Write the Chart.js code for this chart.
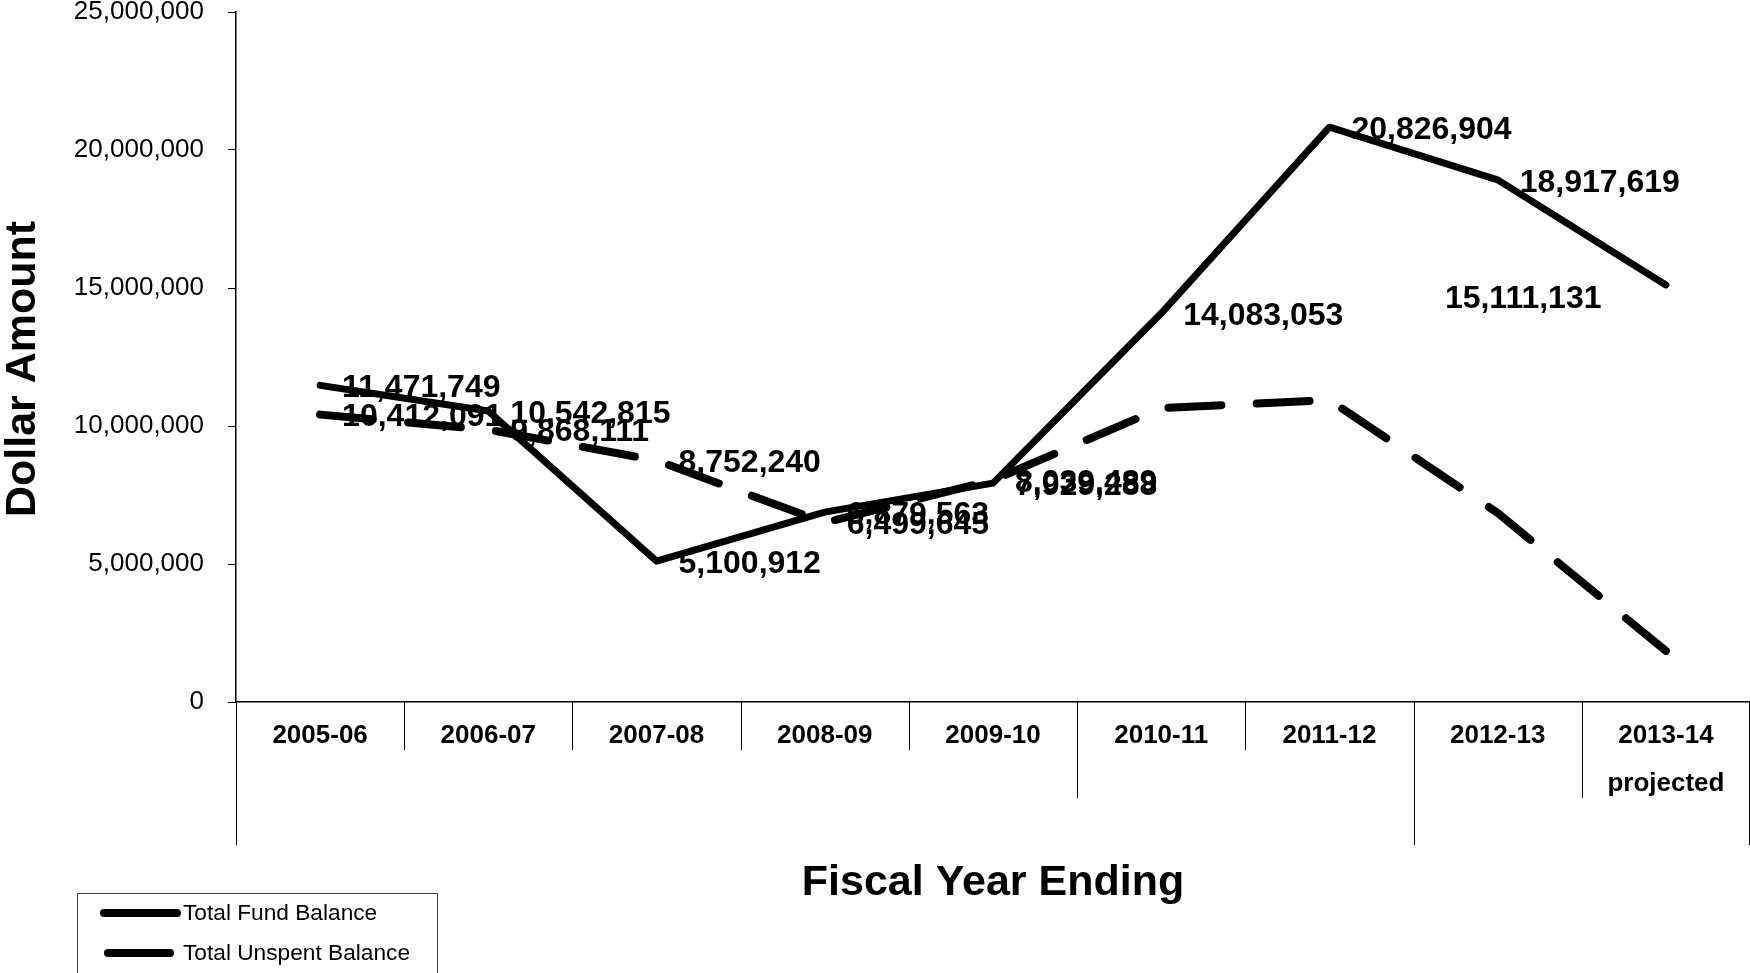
<!DOCTYPE html>
<html>
<head>
<meta charset="utf-8">
<script src="https://cdn.jsdelivr.net/npm/chart.js@4"></script>
<style>
  html, body { margin: 0; padding: 0; background: #fff; }
  .chart-parent { width: 1750px; height: 973px; position: relative; }
</style>
</head>
<body>
<div class="chart-parent">
  <canvas id="myChart"></canvas>
</div>
<script>
const categories = ['2005-06', '2006-07', '2007-08', '2008-09', '2009-10',
  '2010-11', '2011-12', '2012-13', ['2013-14', 'projected']];
const fundBalance = [11471749, 10542815, 5100912, 6879563, 7929288,
  14083053, 20826904, 18917619, 15111131];
const unspentBalance = [10412091, 9868111, 8752240, 6499645, 8039489,
  10650000, 10940000, 6850000, 1850000];
// which points carry a value label in the original
const fundLabelShown = [true, true, true, true, true, true, true, true, true];
const unspentLabelShown = [true, true, true, true, true, false, false, false, false];
const yTicks = [0, 5000000, 10000000, 15000000, 20000000, 25000000];
const seriesNames = ['Total Fund Balance', 'Total Unspent Balance'];

const FONT = '"Liberation Sans", Arial, sans-serif';
const fmt = v => v.toLocaleString('en-US');

// value labels next to the points
const valueLabels = {
  id: 'valueLabels',
  afterDatasetsDraw(chart) {
    const ctx = chart.ctx;
    const shown = [fundLabelShown, unspentLabelShown];
    ctx.save();
    ctx.font = 'bold 32px ' + FONT;
    ctx.fillStyle = '#000';
    ctx.textBaseline = 'middle';
    ctx.textAlign = 'left';
    chart.data.datasets.forEach((ds, di) => {
      chart.getDatasetMeta(di).data.forEach((pt, i) => {
        if (!shown[di][i]) return;
        let dx = 22, dy = 3;
        // last fund label sits to the left of its point
        if (di === 0 && i === ds.data.length - 1) { dx = -221; dy = 14; }
        ctx.fillText(fmt(ds.data[i]), pt.x + dx, pt.y + dy);
      });
    });
    ctx.restore();
  }
};

// category divider lines below the axis, and the legend box
const axisExtras = {
  id: 'axisExtras',
  afterDraw(chart) {
    const ctx = chart.ctx;
    const x = chart.scales.x;
    const y0 = chart.chartArea.bottom;
    const n = categories.length;
    const drops = [143, 48, 48, 48, 48, 96, 48, 143, 96, 143];
    ctx.save();
    ctx.strokeStyle = '#000';
    ctx.lineWidth = 1;
    for (let i = 0; i <= n; i++) {
      let px;
      if (i === 0) px = x.left;
      else if (i === n) px = x.right - 1;
      else px = (x.getPixelForValue(i - 1) + x.getPixelForValue(i)) / 2;
      px = Math.round(px) + 0.5;
      ctx.beginPath();
      ctx.moveTo(px, y0);
      ctx.lineTo(px, y0 + drops[i]);
      ctx.stroke();
    }

    // legend
    ctx.strokeStyle = '#444';
    ctx.strokeRect(77.5, 893.5, 360, 90);
    ctx.strokeStyle = '#000';
    ctx.lineWidth = 8;
    ctx.lineCap = 'round';
    ctx.beginPath();
    ctx.moveTo(104, 913); ctx.lineTo(177, 913);
    ctx.stroke();
    ctx.beginPath();
    ctx.moveTo(108, 953); ctx.lineTo(170, 953);
    ctx.stroke();
    ctx.fillStyle = '#000';
    ctx.font = '22.7px ' + FONT;
    ctx.textBaseline = 'middle';
    ctx.fillText(seriesNames[0], 183, 914);
    ctx.fillText(seriesNames[1], 183, 954);
    ctx.restore();
  }
};

const ctx = document.getElementById('myChart');
const myChart = new Chart(ctx, {
  type: 'line',
  data: {
    labels: categories,
    datasets: [
      {
        label: seriesNames[0],
        data: fundBalance,
        borderColor: '#000',
        borderWidth: 7,
        borderJoinStyle: 'round',
        borderCapStyle: 'round',
        pointRadius: 0,
        tension: 0,
      },
      {
        label: seriesNames[1],
        data: unspentBalance,
        borderColor: '#000',
        borderWidth: 8,
        borderDash: [53, 35.3],
        borderCapStyle: 'round',
        pointRadius: 0,
        tension: 0,
      },
    ],
  },
  options: {
    responsive: true,
    maintainAspectRatio: false,
    animation: false,
    layout: { padding: { top: 12, left: 0, right: 0, bottom: 0 } },
    plugins: {
      legend: { display: false },
      tooltip: { enabled: false },
    },
    scales: {
      x: {
        offset: true,
        grid: { display: false },
        border: { display: true, color: '#000', width: 1.5 },
        ticks: {
          color: '#000',
          font: { family: FONT, size: 26, weight: 'bold', lineHeight: 1.85 },
          padding: 2,
          maxRotation: 0,
          autoSkip: false,
        },
        title: {
          display: true,
          text: 'Fiscal Year Ending',
          color: '#000',
          font: { family: FONT, size: 43, weight: 'bold', lineHeight: 1.2 },
          padding: { top: 0, bottom: 64 },
        },
        afterFit: s => { s.height = 271; s.paddingLeft = 0; s.paddingRight = 0; },
      },
      y: {
        min: 0,
        max: 25000000,
        afterBuildTicks: s => { s.ticks = yTicks.map(v => ({ value: v })); },
        grid: { drawOnChartArea: false, drawTicks: true, tickLength: 8, color: '#000' },
        border: { display: true, color: '#000', width: 1.5 },
        ticks: {
          color: '#000',
          font: { family: FONT, size: 26, lineHeight: 1 },
          padding: 24,
          callback: v => fmt(v),
        },
        title: {
          display: true,
          // trailing spaces nudge the rotated title down a little
          text: 'Dollar Amount  ',
          color: '#000',
          font: { family: FONT, size: 43, weight: 'bold', lineHeight: 1 },
          padding: { top: 2, bottom: 0 },
        },
        afterFit: s => { s.width = 236; s.paddingTop = 0; s.paddingBottom = 0; },
      },
    },
  },
  plugins: [valueLabels, axisExtras],
});
</script>
</body>
</html>
